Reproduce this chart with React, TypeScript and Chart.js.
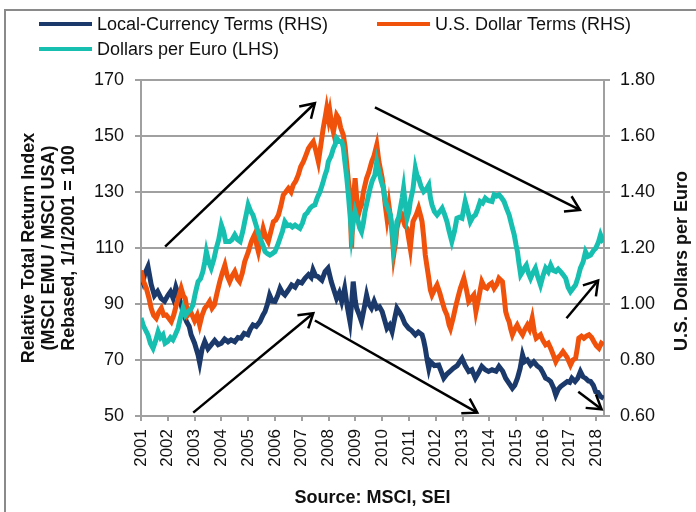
import React, { useEffect, useRef } from "react";
import { Chart, registerables } from "chart.js";
Chart.register(...registerables);

const FONT = '"Liberation Sans", Arial, Helvetica, sans-serif';
const NAVY = "#1b3a6b";
const ORANGE = "#f0520c";
const TEAL = "#17bfb1";
const GRID = "#a0a0a0";
const TEXT = "#111111";

const seriesLabels = [
  "Local-Currency Terms (RHS)",
  "U.S. Dollar Terms (RHS)",
  "Dollars per Euro (LHS)",
];

// [year, relative index]
const localCurrency: [number, number][] = [
  [2001.0,100],[2001.07,98],[2001.15,101],[2001.26,103.4],[2001.38,97],[2001.5,93],[2001.62,94.5],[2001.75,92],[2001.88,91],[2002.0,93],[2002.1,94.4],[2002.2,92],[2002.3,96],[2002.4,93],[2002.5,89.7],[2002.6,86],[2002.7,83.7],[2002.8,82],[2002.87,79],[2003.0,76],[2003.13,71.8],[2003.19,69],[2003.28,74],[2003.38,76.6],[2003.5,74],[2003.62,75.4],[2003.75,77],[2003.88,75.5],[2004.0,76],[2004.12,77.5],[2004.25,76.5],[2004.36,77.2],[2004.5,76.5],[2004.62,78],[2004.73,77.8],[2004.85,79.5],[2004.99,79],[2005.08,81],[2005.18,82.5],[2005.3,82],[2005.44,83.7],[2005.55,86],[2005.63,87.3],[2005.72,90],[2005.8,93.2],[2005.9,91],[2006.0,90.9],[2006.1,93],[2006.19,95.6],[2006.28,94],[2006.37,93.2],[2006.5,95],[2006.62,96.8],[2006.75,96],[2006.87,98],[2007.0,97.5],[2007.12,99.2],[2007.25,100.5],[2007.35,99.5],[2007.42,102.2],[2007.52,100],[2007.6,99.8],[2007.75,98.5],[2007.87,101.6],[2007.98,102.8],[2008.05,100],[2008.1,98],[2008.2,95],[2008.3,92],[2008.4,94],[2008.49,90.9],[2008.6,95.6],[2008.7,89],[2008.8,83.7],[2008.86,90],[2008.92,98],[2009.0,91],[2009.05,88.5],[2009.15,86],[2009.23,83.7],[2009.32,88],[2009.42,93.2],[2009.5,90],[2009.6,88.5],[2009.7,91],[2009.8,88.5],[2009.9,89],[2010.0,87.3],[2010.1,84],[2010.18,81.3],[2010.28,82.5],[2010.37,80.1],[2010.45,84],[2010.55,88.5],[2010.65,87],[2010.74,85.5],[2010.85,83],[2010.99,81.3],[2011.1,80.5],[2011.24,79],[2011.35,80],[2011.49,79],[2011.55,77],[2011.61,74.2],[2011.68,70],[2011.74,67],[2011.8,69.4],[2011.95,68],[2012.11,68.2],[2012.2,66],[2012.3,63.5],[2012.42,65],[2012.53,65.9],[2012.65,67],[2012.8,68],[2012.98,70.6],[2013.1,68],[2013.23,65.9],[2013.35,66.5],[2013.48,63.5],[2013.6,65.5],[2013.72,67.7],[2013.85,66.5],[2013.97,65.9],[2014.1,66.5],[2014.25,66],[2014.36,67.7],[2014.5,66],[2014.61,63.5],[2014.75,61.5],[2014.86,59.9],[2014.95,61],[2015.05,63.5],[2015.15,67],[2015.24,71.8],[2015.32,69.4],[2015.42,70],[2015.54,68.2],[2015.66,69.4],[2015.78,68],[2015.91,67],[2016.0,65.5],[2016.1,63.5],[2016.2,63],[2016.29,62.3],[2016.4,60],[2016.48,57.5],[2016.57,59.5],[2016.66,60.5],[2016.8,61.5],[2016.91,62.3],[2017.0,62],[2017.08,63.5],[2017.2,62.3],[2017.3,63.5],[2017.4,65.9],[2017.5,64],[2017.59,63.5],[2017.7,62.5],[2017.78,62.3],[2017.88,61],[2017.97,58.7],[2018.05,58.5],[2018.15,57],[2018.27,56.3],
];

// [year, relative index]
const usDollar: [number, number][] = [
  [2001.0,102],[2001.1,98],[2001.2,95.6],[2001.3,92],[2001.38,88.5],[2001.47,86],[2001.57,84.9],[2001.66,87],[2001.76,88.5],[2001.85,86],[2001.94,86.1],[2002.03,85],[2002.13,83.7],[2002.22,86],[2002.32,89.7],[2002.42,93],[2002.5,95.6],[2002.58,93],[2002.65,92],[2002.75,86.1],[2002.85,87.3],[2003.0,84],[2003.1,86],[2003.19,82.5],[2003.28,86],[2003.38,88.5],[2003.47,89.5],[2003.56,90.9],[2003.65,88.5],[2003.74,89.7],[2003.84,94],[2003.94,98],[2004.03,101],[2004.13,103.9],[2004.22,100],[2004.31,98],[2004.4,100],[2004.5,101.6],[2004.6,99],[2004.68,98],[2004.78,101],[2004.87,105.1],[2005.0,108.5],[2005.12,112.3],[2005.2,114],[2005.25,115],[2005.32,111],[2005.38,108.7],[2005.47,113],[2005.56,117],[2005.65,114],[2005.75,112.3],[2005.85,116],[2005.94,119.4],[2006.03,120],[2006.13,121.8],[2006.22,125],[2006.31,128.9],[2006.4,130],[2006.5,131.3],[2006.6,130],[2006.68,132.5],[2006.78,134],[2006.87,136.1],[2006.96,139],[2007.06,140.8],[2007.15,143],[2007.25,145.6],[2007.35,147],[2007.43,148],[2007.52,145],[2007.62,140.8],[2007.7,146],[2007.8,152.7],[2007.88,157],[2007.93,159.9],[2008.0,156],[2008.05,158.7],[2008.12,154],[2008.18,151.5],[2008.25,155],[2008.3,157.5],[2008.38,156.3],[2008.45,153],[2008.55,150.4],[2008.62,146],[2008.67,140.8],[2008.74,134],[2008.8,128.9],[2008.84,115],[2008.86,109.9],[2008.9,120],[2008.95,130],[2008.99,134.9],[2009.05,128],[2009.11,121.8],[2009.17,124],[2009.23,125.4],[2009.3,130],[2009.42,134.9],[2009.5,137],[2009.61,140.8],[2009.7,143],[2009.8,146.8],[2009.88,140.8],[2010.0,135],[2010.05,131.3],[2010.12,125],[2010.18,120.6],[2010.25,125.4],[2010.35,118],[2010.43,107.5],[2010.5,112],[2010.55,117],[2010.65,121],[2010.74,121.8],[2010.85,118],[2010.93,117],[2011.05,109.9],[2011.15,119.4],[2011.28,122],[2011.36,124.2],[2011.45,121],[2011.49,119.4],[2011.55,114],[2011.61,107.5],[2011.68,103],[2011.74,99.2],[2011.8,95],[2011.86,93.2],[2011.95,95],[2012.05,96.8],[2012.15,94],[2012.24,90.9],[2012.33,88],[2012.42,86.1],[2012.5,82.5],[2012.55,81.3],[2012.65,85],[2012.73,88.5],[2012.82,92],[2012.92,95.6],[2013.05,99.2],[2013.15,95],[2013.23,90.9],[2013.32,92],[2013.42,93.2],[2013.5,87.3],[2013.6,92],[2013.72,98],[2013.82,96],[2013.91,95.6],[2013.99,96.8],[2014.09,97.5],[2014.18,95.6],[2014.28,97],[2014.36,99.2],[2014.49,98],[2014.55,93],[2014.61,87.3],[2014.68,85],[2014.74,83.7],[2014.8,81],[2014.86,79],[2014.95,81],[2015.04,82.5],[2015.14,80.5],[2015.24,79],[2015.33,81],[2015.42,82.5],[2015.5,81],[2015.6,84.9],[2015.68,80],[2015.75,77.8],[2015.91,79],[2016.0,77],[2016.1,75.4],[2016.2,76],[2016.29,74.2],[2016.38,72],[2016.48,69.4],[2016.57,71],[2016.66,71.8],[2016.75,73],[2016.9,71],[2017.03,68.2],[2017.12,70],[2017.22,70.6],[2017.28,74],[2017.34,77.8],[2017.44,78.5],[2017.53,77.8],[2017.62,78.5],[2017.72,79],[2017.82,78],[2017.9,76.6],[2018.0,75],[2018.09,74.2],[2018.18,76],[2018.27,75.4],
];

// [year, U.S. dollars per euro]
const dollarsPerEuro: [number, number][] = [
  [2001.0,0.95],[2001.1,0.92],[2001.26,0.89],[2001.35,0.86],[2001.45,0.842],[2001.55,0.87],[2001.64,0.901],[2001.73,0.88],[2001.82,0.89],[2001.9,0.86],[2002.0,0.866],[2002.1,0.88],[2002.19,0.872],[2002.28,0.89],[2002.38,0.913],[2002.47,0.95],[2002.57,0.985],[2002.66,0.96],[2002.76,0.973],[2002.85,0.98],[2002.94,0.997],[2003.03,1.04],[2003.13,1.08],[2003.22,1.09],[2003.31,1.116],[2003.38,1.15],[2003.44,1.187],[2003.53,1.15],[2003.62,1.128],[2003.72,1.16],[2003.81,1.199],[2003.9,1.23],[2004.0,1.282],[2004.08,1.26],[2004.16,1.223],[2004.31,1.223],[2004.4,1.23],[2004.5,1.247],[2004.6,1.23],[2004.7,1.223],[2004.8,1.26],[2004.87,1.294],[2004.95,1.33],[2005.0,1.354],[2005.1,1.33],[2005.18,1.318],[2005.3,1.28],[2005.44,1.235],[2005.55,1.21],[2005.63,1.187],[2005.72,1.18],[2005.81,1.175],[2005.9,1.18],[2006.0,1.187],[2006.1,1.21],[2006.19,1.235],[2006.28,1.26],[2006.37,1.294],[2006.47,1.28],[2006.56,1.282],[2006.65,1.275],[2006.75,1.282],[2006.85,1.275],[2006.93,1.27],[2007.03,1.29],[2007.12,1.318],[2007.2,1.325],[2007.31,1.342],[2007.4,1.35],[2007.49,1.354],[2007.58,1.38],[2007.68,1.401],[2007.78,1.43],[2007.87,1.461],[2007.94,1.48],[2007.99,1.508],[2008.1,1.53],[2008.18,1.556],[2008.25,1.57],[2008.3,1.592],[2008.4,1.58],[2008.49,1.58],[2008.55,1.56],[2008.61,1.508],[2008.68,1.45],[2008.74,1.389],[2008.8,1.32],[2008.86,1.247],[2008.92,1.29],[2008.99,1.33],[2009.05,1.31],[2009.11,1.294],[2009.17,1.27],[2009.23,1.258],[2009.3,1.29],[2009.36,1.33],[2009.45,1.37],[2009.55,1.413],[2009.63,1.44],[2009.73,1.461],[2009.8,1.508],[2009.88,1.473],[2009.96,1.44],[2010.05,1.413],[2010.12,1.366],[2010.22,1.34],[2010.31,1.318],[2010.38,1.26],[2010.43,1.199],[2010.5,1.24],[2010.55,1.294],[2010.62,1.31],[2010.68,1.342],[2010.75,1.38],[2010.8,1.413],[2010.87,1.35],[2010.93,1.306],[2011.0,1.33],[2011.05,1.366],[2011.15,1.41],[2011.24,1.485],[2011.3,1.46],[2011.36,1.449],[2011.45,1.42],[2011.55,1.401],[2011.65,1.41],[2011.74,1.425],[2011.8,1.38],[2011.86,1.354],[2011.95,1.33],[2012.05,1.318],[2012.15,1.33],[2012.24,1.342],[2012.33,1.32],[2012.42,1.294],[2012.5,1.26],[2012.6,1.223],[2012.7,1.26],[2012.79,1.306],[2012.88,1.31],[2012.98,1.306],[2013.1,1.366],[2013.2,1.33],[2013.29,1.294],[2013.38,1.31],[2013.48,1.318],[2013.57,1.34],[2013.66,1.366],[2013.75,1.36],[2013.85,1.378],[2013.95,1.37],[2014.1,1.366],[2014.18,1.39],[2014.27,1.385],[2014.36,1.39],[2014.45,1.38],[2014.55,1.366],[2014.65,1.34],[2014.74,1.318],[2014.84,1.28],[2014.93,1.247],[2015.0,1.21],[2015.05,1.187],[2015.1,1.15],[2015.17,1.104],[2015.24,1.115],[2015.3,1.128],[2015.38,1.139],[2015.46,1.11],[2015.54,1.092],[2015.62,1.11],[2015.72,1.128],[2015.8,1.1],[2015.91,1.068],[2016.0,1.1],[2016.1,1.128],[2016.2,1.115],[2016.29,1.139],[2016.38,1.12],[2016.48,1.116],[2016.57,1.125],[2016.66,1.116],[2016.75,1.105],[2016.85,1.092],[2016.94,1.06],[2017.03,1.044],[2017.12,1.055],[2017.22,1.068],[2017.31,1.095],[2017.4,1.128],[2017.5,1.15],[2017.59,1.187],[2017.68,1.17],[2017.78,1.175],[2017.88,1.19],[2017.97,1.199],[2018.07,1.22],[2018.15,1.247],[2018.22,1.23],[2018.27,1.235],
];

const xTickYears = [2001,2002,2003,2004,2005,2006,2007,2008,2009,2010,2011,2012,2013,2014,2015,2016,2017,2018];
const leftTicks = [50, 70, 90, 110, 130, 150, 170];
const rightTicks = [0.6, 0.8, 1.0, 1.2, 1.4, 1.6, 1.8];
const leftTitle = ["Relative Total Return Index", "(MSCI EMU / MSCI USA)", "Rebased, 1/1/2001 = 100"];
const rightTitle = "U.S. Dollars per Euro";
const sourceText = "Source: MSCI, SEI";

// trend arrows: [fromYear, fromIndex, toYear, toIndex] in left-axis units
const trendArrows: [number, number, number, number][] = [
  [2001.9, 110.5, 2007.49, 161.7],
  [2009.73, 160.2, 2017.38, 123.6],
  [2002.95, 51.2, 2007.43, 86.7],
  [2007.49, 84.1, 2013.55, 51.2],
  [2016.88, 84.9, 2018.06, 98.4],
  [2017.32, 58.7, 2018.19, 52.4],
];

const overlayPlugin = {
  id: "overlay",
  afterDatasetsDraw(chart: any) {
    const { ctx, scales } = chart;
    const xs = scales.x;
    const ys = scales.y;
    ctx.save();
    ctx.strokeStyle = "#000";
    ctx.lineWidth = 2.5;
    ctx.lineCap = "butt";
    ctx.lineJoin = "miter";
    trendArrows.forEach(([x0, y0, x1, y1]) => {
      const ax = xs.getPixelForValue(x0);
      const ay = ys.getPixelForValue(y0);
      const bx = xs.getPixelForValue(x1);
      const by = ys.getPixelForValue(y1);
      const ang = Math.atan2(by - ay, bx - ax);
      const L = 16;
      const h = 0.56;
      ctx.beginPath();
      ctx.moveTo(ax, ay);
      ctx.lineTo(bx, by);
      ctx.stroke();
      ctx.beginPath();
      ctx.moveTo(bx - L * Math.cos(ang - h), by - L * Math.sin(ang - h));
      ctx.lineTo(bx, by);
      ctx.lineTo(bx - L * Math.cos(ang + h), by - L * Math.sin(ang + h));
      ctx.stroke();
    });
    ctx.restore();
  },
  afterDraw(chart: any) {
    const { ctx } = chart;
    ctx.save();
    const spots = [
      { x: 39, y: 24 },
      { x: 377, y: 24 },
      { x: 39, y: 49 },
    ];
    chart.data.datasets.forEach((ds: any, i: number) => {
      const p = spots[i];
      ctx.strokeStyle = ds.borderColor;
      ctx.lineWidth = 4;
      ctx.beginPath();
      ctx.moveTo(p.x, p.y);
      ctx.lineTo(p.x + 53, p.y);
      ctx.stroke();
      ctx.fillStyle = TEXT;
      ctx.font = `18px ${FONT}`;
      ctx.textAlign = "left";
      ctx.textBaseline = "middle";
      ctx.fillText(ds.label, p.x + 58, p.y + 1);
    });
    ctx.translate(682, 261);
    ctx.rotate(-Math.PI / 2);
    ctx.font = `bold 18px ${FONT}`;
    ctx.textAlign = "center";
    ctx.textBaseline = "middle";
    ctx.fillStyle = TEXT;
    ctx.fillText(rightTitle, 0, 0);
    ctx.restore();
  },
};

export default function App() {
  const ref = useRef<HTMLCanvasElement | null>(null);

  useEffect(() => {
    document.body.style.margin = "0";
    const canvas = ref.current;
    if (!canvas) return;
    const toPts = (arr: [number, number][]) => arr.map(([x, y]) => ({ x, y }));
    const chart = new Chart(canvas, {
      type: "line",
      data: {
        datasets: [
          {
            label: seriesLabels[0],
            data: toPts(localCurrency),
            borderColor: NAVY,
            backgroundColor: NAVY,
            borderWidth: 5,
            pointRadius: 0,
            yAxisID: "y",
            order: 3,
          },
          {
            label: seriesLabels[1],
            data: toPts(usDollar),
            borderColor: ORANGE,
            backgroundColor: ORANGE,
            borderWidth: 5,
            pointRadius: 0,
            yAxisID: "y",
            order: 2,
          },
          {
            label: seriesLabels[2],
            data: toPts(dollarsPerEuro),
            borderColor: TEAL,
            backgroundColor: TEAL,
            borderWidth: 5,
            pointRadius: 0,
            yAxisID: "y1",
            order: 1,
          },
        ],
      },
      options: {
        animation: false,
        responsive: true,
        maintainAspectRatio: false,
        parsing: false as any,
        layout: { padding: { top: 80, right: 0, bottom: 0, left: 0 } },
        plugins: {
          legend: { display: false },
          tooltip: { enabled: false },
        },
        scales: {
          x: {
            type: "linear",
            min: 2001,
            max: 2018.28,
            afterBuildTicks: (s: any) => {
              s.ticks = xTickYears.map((v) => ({ value: v }));
            },
            afterFit: (s: any) => {
              s.height = 96;
            },
            ticks: {
              autoSkip: false,
              maxRotation: 90,
              minRotation: 90,
              padding: 8,
              color: TEXT,
              font: { family: FONT, size: 17 },
              callback: (v: any) => String(v),
            },
            grid: { drawOnChartArea: false, drawTicks: true, tickLength: 5, color: GRID, lineWidth: 2 },
            border: { display: true, color: GRID, width: 2 },
            title: {
              display: true,
              text: sourceText,
              color: TEXT,
              font: { family: FONT, size: 18, weight: "bold", lineHeight: 1.2 },
              padding: { top: 0, bottom: 3 },
            },
          },
          y: {
            type: "linear",
            position: "left",
            min: 50,
            max: 170,
            afterBuildTicks: (s: any) => {
              s.ticks = leftTicks.map((v) => ({ value: v }));
            },
            afterFit: (s: any) => {
              s.width = 141;
            },
            ticks: {
              padding: 11,
              color: TEXT,
              font: { family: FONT, size: 18 },
              callback: (v: any) => String(v),
            },
            grid: { color: GRID, lineWidth: 2, drawTicks: true, tickLength: 6 },
            border: { display: true, color: GRID, width: 2 },
            title: {
              display: true,
              text: leftTitle,
              color: TEXT,
              font: { family: FONT, size: 18, weight: "bold", lineHeight: 20 / 18 },
              padding: { top: 19, bottom: 0 },
            },
          },
          y1: {
            type: "linear",
            position: "right",
            min: 0.6,
            max: 1.8,
            afterBuildTicks: (s: any) => {
              s.ticks = rightTicks.map((v) => ({ value: v }));
            },
            afterFit: (s: any) => {
              s.width = 92;
            },
            ticks: {
              padding: 10,
              color: TEXT,
              font: { family: FONT, size: 18 },
              callback: (v: any) => Number(v).toFixed(2),
            },
            grid: { drawOnChartArea: false, drawTicks: true, tickLength: 6, color: GRID, lineWidth: 2 },
            border: { display: true, color: GRID, width: 2 },
          },
        },
      },
      plugins: [overlayPlugin],
    } as any);
    return () => chart.destroy();
  }, []);

  return (
    <div style={{ position: "relative", width: 696, height: 512, overflow: "hidden", background: "#fff" }}>
      <div
        style={{
          position: "absolute",
          left: 4,
          top: 9,
          width: 800,
          height: 700,
          borderTop: "2px solid #8a8a8a",
          borderLeft: "2px solid #8a8a8a",
        }}
      />
      <canvas ref={ref} style={{ position: "absolute", left: 0, top: 0, width: 696, height: 512 }} />
    </div>
  );
}
